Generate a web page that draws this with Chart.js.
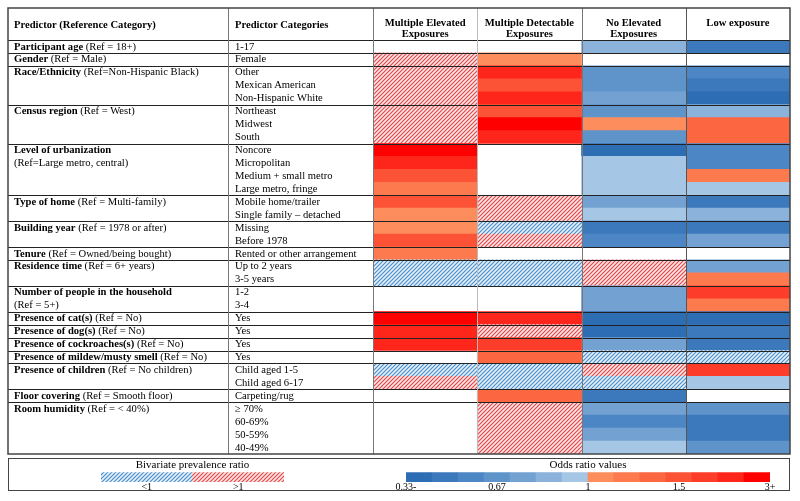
<!DOCTYPE html>
<html lang="en">
<head>
    <meta charset="UTF-8">
    <title>Predictors of exposure profiles</title>
    <script src="https://cdn.jsdelivr.net/npm/chart.js"></script>
    <style>
        body {
            margin: 0;
            background-color: #fff;
        }
        #wrap {
            position: relative;
            width: 800px;
            height: 501px;
            font-family: "Liberation Serif", "Times New Roman", serif;
            color: #000;
            overflow: hidden;
        }
        #wrap canvas {
            position: absolute;
        }
        .txt {
            position: absolute;
            font-size: 10.6px;
            white-space: pre;
        }
        .hm-head {
            text-align: center;
            font-weight: bold;
            line-height: 11.5px;
        }
        #legendBox {
            position: absolute;
            left: 8px;
            top: 458px;
            width: 780px;
            height: 31px;
            border: 1px solid #444;
        }
    </style>
</head>
<body>
<div id="wrap">
    <div id="legendBox"></div>
    <canvas id="tableChart" width="800" height="501" style="left:0;top:0"></canvas>
    <canvas id="prChart" width="243" height="38" style="left:71px;top:457px"></canvas>
    <canvas id="orChart" width="424" height="38" style="left:376px;top:457px"></canvas>
</div>

<script>
    // ---- data ----
    const predictors = ['Participant age', 'Gender', 'Race/Ethnicity', 'Census region', 'Level of urbanization',
        'Type of home', 'Building year', 'Tenure', 'Residence time', 'Number of people in the household',
        'Presence of cat(s)', 'Presence of dog(s)', 'Presence of cockroaches(s)', 'Presence of mildew/musty smell',
        'Presence of children', 'Floor covering', 'Room humidity'];
    const references = ['(Ref = 18+)', '(Ref = Male)', '(Ref=Non-Hispanic Black)', '(Ref = West)',
        '\n(Ref=Large metro, central)', '(Ref = Multi-family)', '(Ref = 1978 or after)', '(Ref = Owned/being bought)',
        '(Ref = 6+ years)', '\n(Ref = 5+)', '(Ref = No)', '(Ref = No)', '(Ref = No)', '(Ref = No)',
        '(Ref = No children)', '(Ref = Smooth floor)', '(Ref = < 40%)'];
    const groupSizes = [1, 1, 3, 3, 4, 2, 2, 1, 2, 2, 1, 1, 1, 1, 2, 1, 4];
    const categories = ['1-17', 'Female', 'Other', 'Mexican American', 'Non-Hispanic White',
        'Northeast', 'Midwest', 'South', 'Noncore', 'Micropolitan', 'Medium + small metro', 'Large metro, fringe',
        'Mobile home/trailer', 'Single family – detached', 'Missing', 'Before 1978', 'Rented or other arrangement',
        'Up to 2 years', '3-5 years', '1-2', '3-4', 'Yes', 'Yes', 'Yes', 'Yes', 'Child aged 1-5', 'Child aged 6-17',
        'Carpeting/rug', '≥ 70%', '60-69%', '50-59%', '40-49%'];

    const columnTitles = ['Multiple Elevated\nExposures', 'Multiple Detectable\nExposures', 'No Elevated\nExposures', 'Low exposure'];

    // odds ratios (numbers), bivariate prevalence ratio only ('<1' / '>1'), or null = blank
    const multipleElevated = [null, '>1', '>1', '>1', '>1', '>1', '>1', '>1', 3.2, 2.4, 1.6, 1.2, 1.45, 1.05,
        1.08, 1.45, 1.2, '<1', '<1', null, null, 3.2, 2.4, 2.4, null, '<1', '>1', null, null, null, null, null];
    const multipleDetectable = [null, 1.08, 2.4, 1.45, 2.4, 1.45, 3.2, 2.4, null, null, null, null, '>1', '>1',
        '<1', '>1', null, '<1', '<1', null, null, 2.4, '>1', 1.9, 1.35, '<1', '<1', 1.35, '>1', '>1', '>1', '>1'];
    const noElevated = [0.86, null, 0.68, 0.64, 0.74, 0.64, 1.05, 0.64, 0.36, 0.95, 0.95, 0.95, 0.74, 0.98,
        0.47, 0.56, null, '>1', '>1', 0.74, 0.74, 0.36, 0.36, 0.74, '<1', '>1', '<1', 0.47, 0.74, 0.56, 0.74, 0.95];
    const lowExposure = [0.47, null, 0.56, 0.47, 0.36, 0.86, 1.35, 1.3, 0.56, 0.56, 1.2, 0.95, 0.47, 0.9,
        0.47, 0.74, null, 0.74, 1.15, 1.9, 1.2, 0.36, 0.47, 0.45, '<1', 1.75, 0.95, null, 0.7, 0.47, 0.45, 0.7];

    // legend scale
    const oddsKnots = [0.33, 0.67, 1, 1.5, 3];
    const oddsTickLabels = ['0.33-', '0.67', '1', '1.5', '3+'];
    const prTickLabels = ['<1', '>1'];

    // ---- styling ----
    const FONT = '"Liberation Serif", "Times New Roman", serif';
    Chart.defaults.font.family = FONT;
    Chart.defaults.color = '#000';

    const oddsPalette = ['#2c6db4', '#3b78bc', '#4c86c4', '#5f94cb', '#73a2d2', '#8ab2da', '#a6c6e6',
        '#fd8d5c', '#fd7a4e', '#fc6742', '#fc5236', '#fd3d29', '#fe261b', '#ff0000'];
    const BINS_PER_KNOT = 3.5;

    const TABLE_LEFT = 8, TABLE_TOP = 8, CAT_LEFT = 228;

    function makeHatch(bg, line) {
        const c = document.createElement('canvas');
        c.width = 4; c.height = 4;
        const g = c.getContext('2d');
        g.fillStyle = bg;
        g.fillRect(0, 0, 4, 4);
        g.strokeStyle = line;
        g.lineWidth = 1.2;
        g.beginPath();
        g.moveTo(0, 4); g.lineTo(4, 0);
        g.moveTo(-1, 1); g.lineTo(1, -1);
        g.moveTo(3, 5); g.lineTo(5, 3);
        g.stroke();
        return g.createPattern(c, 'repeat');
    }
    const hatchLow = makeHatch('#e6f0fa', '#4a8fca');
    const hatchHigh = makeHatch('#fde6e6', '#e4494c');

    // position of an odds ratio on the legend bar (0..14)
    function oddsPosition(v) {
        if (v <= oddsKnots[0]) return 0;
        for (let i = 0; i < oddsKnots.length - 1; i++) {
            if (v <= oddsKnots[i + 1]) {
                return (i + (v - oddsKnots[i]) / (oddsKnots[i + 1] - oddsKnots[i])) * BINS_PER_KNOT;
            }
        }
        return oddsPalette.length;
    }

    function cellColor(v) {
        if (v === null) return 'rgba(0,0,0,0)';
        if (v === '<1') return hatchLow;
        if (v === '>1') return hatchHigh;
        const bin = Math.min(oddsPalette.length - 1, Math.floor(oddsPosition(v)));
        return oddsPalette[bin];
    }

    // group boundaries (row index where each predictor starts)
    const groupStarts = [];
    groupSizes.reduce((acc, n) => { groupStarts.push(acc); return acc + n; }, 0);

    // table rules drawn on top of the cells
    const tableLines = {
        id: 'tableLines',
        afterDatasetsDraw(chart) {
            const { ctx, chartArea, scales: { x, y } } = chart;
            const band = y.getPixelForValue(1) - y.getPixelForValue(0);
            const right = chartArea.right, bottom = chartArea.bottom;
            ctx.save();

            // row rules between predictor groups
            ctx.strokeStyle = '#222';
            ctx.lineWidth = 1;
            ctx.beginPath();
            groupStarts.slice(1).forEach(r => {
                const yy = Math.round(y.getPixelForValue(r) - band / 2) + 0.5;
                ctx.moveTo(TABLE_LEFT, yy);
                ctx.lineTo(right, yy);
            });
            const headY = Math.round(chartArea.top) + 0.5;
            ctx.moveTo(TABLE_LEFT, headY);
            ctx.lineTo(right, headY);
            ctx.stroke();

            // column rules
            const colX = [CAT_LEFT, chartArea.left, x.getPixelForValue(1), x.getPixelForValue(2), x.getPixelForValue(3)];
            const colColor = ['#777', '#777', '#bbb', '#777', '#555'];
            colX.forEach((cx, i) => {
                ctx.strokeStyle = colColor[i];
                ctx.beginPath();
                ctx.moveTo(Math.round(cx) + 0.5, TABLE_TOP);
                ctx.lineTo(Math.round(cx) + 0.5, bottom);
                ctx.stroke();
            });

            // outer frame
            ctx.strokeStyle = '#444';
            ctx.lineWidth = 1.5;
            ctx.strokeRect(TABLE_LEFT, TABLE_TOP, right - TABLE_LEFT, bottom - TABLE_TOP);
            ctx.restore();
        }
    };

    const columns = [multipleElevated, multipleDetectable, noElevated, lowExposure];

    const tableChart = new Chart(document.getElementById('tableChart'), {
        type: 'bar',
        data: {
            labels: categories,
            datasets: columns.map((vals, c) => ({
                label: columnTitles[c],
                data: vals.map(v => v === null ? null : [c, c + 1]),
                backgroundColor: vals.map(cellColor),
                borderWidth: 0,
                grouped: false,
                barPercentage: 1,
                categoryPercentage: 1
            }))
        },
        options: {
            indexAxis: 'y',
            responsive: false,
            animation: false,
            layout: { padding: { left: 373, right: 10, top: 40, bottom: 47 } },
            plugins: {
                legend: { display: false },
                tooltip: { enabled: false }
            },
            scales: {
                x: { type: 'linear', min: 0, max: 4, display: false },
                y: { display: false }
            }
        },
        plugins: [tableLines]
    });

    // ---- table text, placed with the chart's own scales ----
    const wrap = document.getElementById('wrap');
    function addText(x, y, cls, parts, width) {
        const d = document.createElement('div');
        d.className = 'txt ' + cls;
        d.style.left = x + 'px';
        d.style.top = y + 'px';
        if (width) d.style.width = width + 'px';
        parts.forEach(p => {
            if (p.bold) {
                const b = document.createElement('b');
                b.textContent = p.text;
                d.appendChild(b);
            } else {
                d.appendChild(document.createTextNode(p.text));
            }
        });
        wrap.appendChild(d);
        return d;
    }

    const ys = tableChart.scales.y, xs = tableChart.scales.x;
    const band = ys.getPixelForValue(1) - ys.getPixelForValue(0);
    const rowTop = i => ys.getPixelForValue(i) - band / 2;

    // header
    addText(TABLE_LEFT + 6, 18.5, '', [{ text: 'Predictor (Reference Category)', bold: true }]).style.lineHeight = band + 'px';
    addText(CAT_LEFT + 7, 18.5, '', [{ text: 'Predictor Categories', bold: true }]).style.lineHeight = band + 'px';
    columnTitles.forEach((t, c) => {
        const x0 = xs.getPixelForValue(c), x1 = xs.getPixelForValue(c + 1);
        addText(x0, 16.5, 'hm-head', [{ text: t }], x1 - x0);
    });

    // body
    predictors.forEach((name, g) => {
        const d = addText(TABLE_LEFT + 6, rowTop(groupStarts[g]) + 0.5, '',
            [{ text: name, bold: true }, { text: ' ' + references[g] }]);
        d.style.lineHeight = band + 'px';
    });
    categories.forEach((cat, i) => {
        const d = addText(CAT_LEFT + 7, rowTop(i) + 0.5, '', [{ text: cat }]);
        d.style.lineHeight = band + 'px';
    });

    // ---- legends ----
    const legendTitle = text => ({
        display: true,
        text: text,
        font: { size: 11, weight: 'normal', lineHeight: 1.2 },
        color: '#000',
        padding: { top: 2, bottom: 0 }
    });
    const legendAxis = (max, tickValues, labels) => ({
        type: 'linear', min: 0, max: max,
        grid: { display: false, drawTicks: false, tickLength: 0 },
        border: { display: false },
        afterBuildTicks: axis => { axis.ticks = tickValues.map(v => ({ value: v })); },
        ticks: {
            callback: (v, i) => labels[i],
            font: { size: 10, lineHeight: 1.1 }, padding: 0, maxRotation: 0, autoSkip: false
        }
    });

    new Chart(document.getElementById('prChart'), {
        type: 'bar',
        data: {
            labels: ['PR'],
            datasets: [{
                data: [{ x: [0, 1], y: 'PR' }, { x: [1, 2], y: 'PR' }],
                backgroundColor: [hatchLow, hatchHigh],
                borderWidth: 0,
                barPercentage: 1,
                categoryPercentage: 1
            }]
        },
        options: {
            indexAxis: 'y',
            responsive: false,
            animation: false,
            layout: { padding: { left: 30, right: 30, bottom: 2 } },
            plugins: {
                legend: { display: false },
                tooltip: { enabled: false },
                title: legendTitle('Bivariate prevalence ratio')
            },
            scales: {
                y: { display: false },
                x: legendAxis(2, [0.5, 1.5], prTickLabels)
            }
        }
    });

    new Chart(document.getElementById('orChart'), {
        type: 'bar',
        data: {
            labels: ['OR'],
            datasets: [{
                data: oddsPalette.map((c, k) => ({ x: [k, k + 1], y: 'OR' })),
                backgroundColor: oddsPalette,
                borderWidth: 0,
                barPercentage: 1,
                categoryPercentage: 1
            }]
        },
        options: {
            indexAxis: 'y',
            responsive: false,
            animation: false,
            layout: { padding: { left: 30, right: 30, bottom: 2 } },
            plugins: {
                legend: { display: false },
                tooltip: { enabled: false },
                title: legendTitle('Odds ratio values')
            },
            scales: {
                y: { display: false },
                x: legendAxis(oddsPalette.length, oddsKnots.map((k, i) => i * BINS_PER_KNOT), oddsTickLabels)
            }
        }
    });
</script>
</body>
</html>
